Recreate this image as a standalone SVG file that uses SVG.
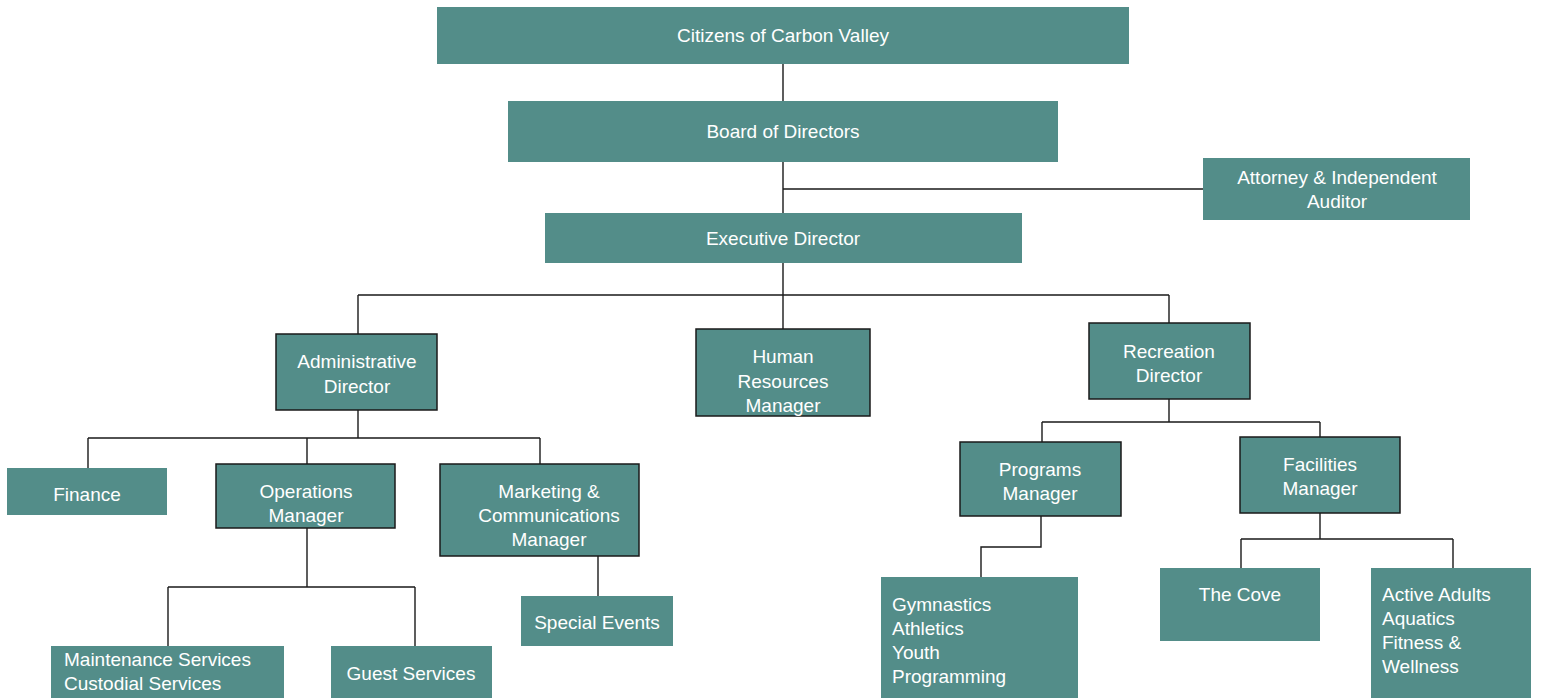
<svg xmlns="http://www.w3.org/2000/svg" width="1541" height="698" viewBox="0 0 1541 698">
<style>
.n{fill:#538d89}
.b{stroke:#1a1a1a;stroke-width:1.5}
text{font-family:"Liberation Sans",Arial,sans-serif;font-size:19px;fill:#ffffff}
.c{text-anchor:middle}
.l{fill:none;stroke:#1a1a1a;stroke-width:1.4}
</style>
<rect width="1541" height="698" fill="#ffffff"/>
<g id="connectors">
<path class="l" d="M783 64V101M783 162V213M783 189H1203"/>
<path class="l" d="M783 263V295M358 295H1169M358 295V334M783 295V329M1169 295V323"/>
<path class="l" d="M358 410V438M88 438H540M88 438V468M307 438V464M540 438V464"/>
<path class="l" d="M307 528V587M168 587H415M168 587V646M415 587V646"/>
<path class="l" d="M598 556V596"/>
<path class="l" d="M1169 399V422M1042 422H1320M1042 422V442M1320 422V437"/>
<path class="l" d="M1041 516V547H981V577"/>
<path class="l" d="M1320 513V539M1241 539H1453M1241 539V568M1453 539V568"/>
</g>
<g id="citizens"><rect class="n" x="437" y="7" width="692" height="57"/><text class="c" x="783" y="42">Citizens of Carbon Valley</text></g>
<g id="board"><rect class="n" x="508" y="101" width="550" height="61"/><text class="c" x="783" y="138">Board of Directors</text></g>
<g id="attorney"><rect class="n" x="1203" y="158" width="267" height="62"/><text class="c" x="1337" y="184">Attorney &amp; Independent</text><text class="c" x="1337" y="208">Auditor</text></g>
<g id="executive"><rect class="n" x="545" y="213" width="477" height="50"/><text class="c" x="783" y="245">Executive Director</text></g>
<g id="admin"><rect class="n b" x="276" y="334" width="161" height="76"/><text class="c" x="357" y="368">Administrative</text><text class="c" x="357" y="393">Director</text></g>
<g id="hr"><rect class="n b" x="696" y="329" width="174" height="87"/><text class="c" x="783" y="363">Human</text><text class="c" x="783" y="388">Resources</text><text class="c" x="783" y="412">Manager</text></g>
<g id="recreation"><rect class="n b" x="1089" y="323" width="161" height="76"/><text class="c" x="1169" y="358">Recreation</text><text class="c" x="1169" y="382">Director</text></g>
<g id="finance"><rect class="n" x="7" y="468" width="160" height="47"/><text class="c" x="87" y="501">Finance</text></g>
<g id="operations"><rect class="n b" x="216" y="464" width="179" height="64"/><text class="c" x="306" y="498">Operations</text><text class="c" x="306" y="522">Manager</text></g>
<g id="marketing"><rect class="n b" x="440" y="464" width="199" height="92"/><text class="c" x="549" y="498">Marketing &amp;</text><text class="c" x="549" y="522">Communications</text><text class="c" x="549" y="546">Manager</text></g>
<g id="maintenance"><rect class="n" x="51" y="646" width="233" height="52"/><text x="64" y="666">Maintenance Services</text><text x="64" y="690">Custodial Services</text></g>
<g id="guest"><rect class="n" x="331" y="646" width="161" height="52"/><text class="c" x="411" y="680">Guest Services</text></g>
<g id="special"><rect class="n" x="521" y="596" width="152" height="50"/><text class="c" x="597" y="629">Special Events</text></g>
<g id="programs"><rect class="n b" x="960" y="442" width="161" height="74"/><text class="c" x="1040" y="476">Programs</text><text class="c" x="1040" y="500">Manager</text></g>
<g id="facilities"><rect class="n b" x="1240" y="437" width="160" height="76"/><text class="c" x="1320" y="471">Facilities</text><text class="c" x="1320" y="495">Manager</text></g>
<g id="gymnastics"><rect class="n" x="881" y="577" width="197" height="121"/><text x="892" y="611">Gymnastics</text><text x="892" y="635">Athletics</text><text x="892" y="659">Youth</text><text x="892" y="683">Programming</text></g>
<g id="cove"><rect class="n" x="1160" y="568" width="160" height="73"/><text class="c" x="1240" y="601">The Cove</text></g>
<g id="active"><rect class="n" x="1371" y="568" width="160" height="130"/><text x="1382" y="601">Active Adults</text><text x="1382" y="625">Aquatics</text><text x="1382" y="649">Fitness &amp;</text><text x="1382" y="673">Wellness</text></g>
</svg>
